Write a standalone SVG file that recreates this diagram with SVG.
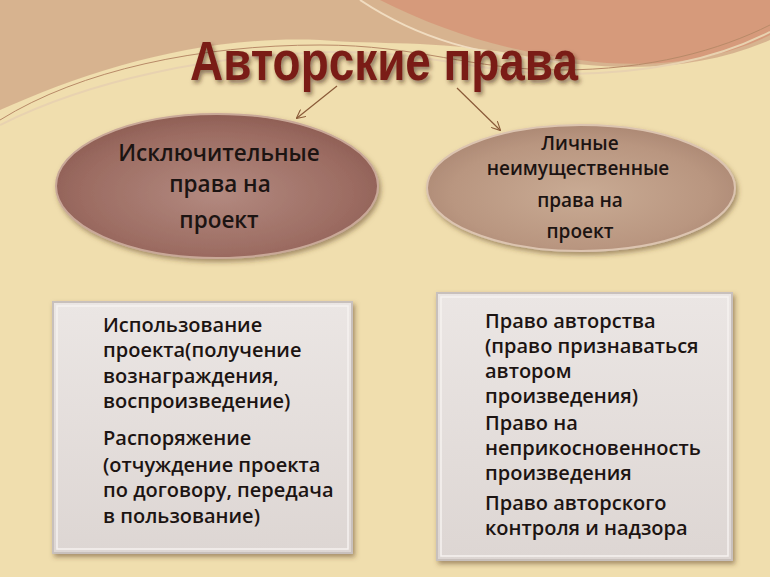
<svg xmlns="http://www.w3.org/2000/svg" width="770" height="577" viewBox="0 0 770 577">
<style>
.t{font-family:"Open Sans","Noto Sans","DejaVu Sans",sans-serif;font-weight:600;fill:#1c1412}
.el{font-size:22.5px;text-anchor:middle}
.er{font-size:19px;text-anchor:middle}
.bx{font-size:20px}
.conn{stroke:#8a5a38;stroke-width:1.2;fill:none}
</style>
<defs>
<radialGradient id="gL" cx="0.5" cy="0.55" r="0.6">
<stop offset="0" stop-color="#b38a80"/>
<stop offset="0.7" stop-color="#9c6c62"/>
<stop offset="1" stop-color="#8a5a50"/>
</radialGradient>
<radialGradient id="gR" cx="0.5" cy="0.55" r="0.6">
<stop offset="0" stop-color="#c9ab94"/>
<stop offset="0.7" stop-color="#b99680"/>
<stop offset="1" stop-color="#a88470"/>
</radialGradient>
<linearGradient id="gB" x1="0" y1="0" x2="0" y2="1">
<stop offset="0" stop-color="#ebe6e4"/>
<stop offset="1" stop-color="#ddd6d3"/>
</linearGradient>
<filter id="sh" x="-10%" y="-10%" width="130%" height="130%">
<feDropShadow dx="2" dy="3" stdDeviation="2.5" flood-color="#5a3a20" flood-opacity="0.5"/>
</filter>
<filter id="tsh" x="-5%" y="-10%" width="110%" height="130%">
<feDropShadow dx="2" dy="3" stdDeviation="2" flood-color="#3a2010" flood-opacity="0.55"/>
</filter>
<marker id="ar" viewBox="0 0 10 10" refX="9" refY="5" markerWidth="9" markerHeight="9" orient="auto" markerUnits="userSpaceOnUse">
<path d="M0,0 L10,5 L0,10" fill="none" stroke="#8a5a38" stroke-width="1.2"/>
</marker>
</defs>
<g id="background">
<rect width="770" height="577" fill="#f0deae"/>
<path d="M0,0 H770 V40 C700,70 620,75 520,55 C440,40 380,45 320,40 C200,35 90,70 0,110 Z" fill="#d2ac8a" opacity="0.85"/>
<path d="M330,0 H770 V35 C720,60 650,70 580,60 C500,50 440,30 380,0 Z" fill="#d69274" opacity="0.75"/>
<path d="M0,120 C80,70 200,45 320,45 C420,45 470,70 560,70 C650,70 720,50 770,25" fill="none" stroke="#b88a68" stroke-width="1"/>
<path d="M0,125 C90,80 210,55 330,52 C430,50 480,75 570,74 C660,73 725,55 770,32" fill="none" stroke="#e8d2b0" stroke-width="2"/>
<path d="M360,0 C420,40 480,55 560,62" fill="none" stroke="#f0dcc0" stroke-width="2"/>
</g>
<g id="title">
<text x="384" y="80" text-anchor="middle" textLength="388" lengthAdjust="spacingAndGlyphs" font-family="'Liberation Sans','Open Sans',sans-serif" font-weight="700" font-size="56" fill="#7a1f16" filter="url(#tsh)">Авторские права</text>
</g>
<g id="connectors">
<line class="conn" x1="337" y1="86" x2="297" y2="118" marker-end="url(#ar)"/>
<line class="conn" x1="457" y1="88" x2="500" y2="130" marker-end="url(#ar)"/>
</g>
<g id="node-exclusive">
<ellipse cx="217" cy="186" rx="161" ry="72" fill="url(#gL)" stroke="#c9a898" stroke-width="2" filter="url(#sh)"/>
<text class="t el" x="219" y="161">Исключительные</text>
<text class="t el" x="220" y="192">права на</text>
<text class="t el" x="219" y="228">проект</text>
</g>
<g id="node-personal">
<ellipse cx="581" cy="188" rx="154" ry="63" fill="url(#gR)" stroke="#dcc4b0" stroke-width="2" filter="url(#sh)"/>
<text class="t er" x="580" y="150">Личные</text>
<text class="t er" x="578" y="175">неимущественные</text>
<text class="t er" x="580" y="207">права на</text>
<text class="t er" x="580" y="238">проект</text>
</g>
<g id="box-exclusive">
<rect x="53" y="302" width="299" height="251" fill="url(#gB)" stroke="#c8c0bc" stroke-width="2" filter="url(#sh)"/>
<rect x="57" y="306" width="291" height="243" fill="none" stroke="#f6f2f0" stroke-width="1.5"/>
<text class="t bx" x="103" y="332">Использование</text>
<text class="t bx" x="103" y="357">проекта(получение</text>
<text class="t bx" x="103" y="383">вознаграждения,</text>
<text class="t bx" x="103" y="408">воспроизведение)</text>
<text class="t bx" x="103" y="445">Распоряжение</text>
<text class="t bx" x="103" y="472">(отчуждение проекта</text>
<text class="t bx" x="103" y="497">по договору, передача</text>
<text class="t bx" x="103" y="523">в пользование)</text>
</g>
<g id="box-personal">
<rect x="437" y="293" width="295" height="267" fill="url(#gB)" stroke="#c8c0bc" stroke-width="2" filter="url(#sh)"/>
<rect x="441" y="297" width="287" height="259" fill="none" stroke="#f6f2f0" stroke-width="1.5"/>
<text class="t bx" x="485" y="328">Право авторства</text>
<text class="t bx" x="485" y="353">(право признаваться</text>
<text class="t bx" x="485" y="378">автором</text>
<text class="t bx" x="485" y="403">произведения)</text>
<text class="t bx" x="485" y="430">Право на</text>
<text class="t bx" x="485" y="455">неприкосновенность</text>
<text class="t bx" x="485" y="480">произведения</text>
<text class="t bx" x="485" y="510">Право авторского</text>
<text class="t bx" x="485" y="535">контроля и надзора</text>
</g>
</svg>
